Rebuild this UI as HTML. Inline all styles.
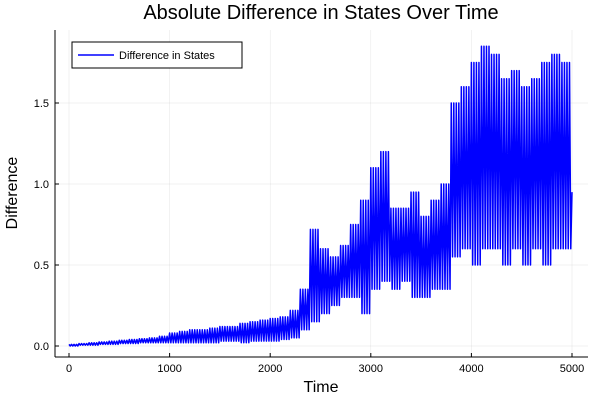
<!DOCTYPE html>
<html><head><meta charset="utf-8"><style>
html,body{margin:0;padding:0;background:#fff;}
svg{display:block;font-family:"Liberation Sans",sans-serif;}
</style></head><body>
<svg id="chart" width="600" height="400" viewBox="0 0 600 400"></svg>
<script>
const times=[0,100,200,300,400,500,600,700,800,900,1000,1100,1200,1300,1400,1500,1600,1700,1800,1900,2000,2100,2200,2300,2400,2500,2600,2700,2800,2900,3000,3100,3200,3300,3400,3500,3600,3700,3800,3900,4000,4100,4200,4300,4400,4500,4600,4700,4800,4900];
const hiVals=[.01,.015,.02,.025,.03,.035,.04,.045,.05,.06,.08,.09,.1,.1,.11,.12,.12,.14,.15,.16,.17,.18,.22,.35,.72,.6,.55,.62,.75,.9,1.1,1.2,.85,.85,.95,.8,.9,1.0,1.5,1.6,1.75,1.85,1.8,1.65,1.7,1.6,1.65,1.75,1.8,1.75];
const loVals=[0,.005,.005,.01,.01,.015,.015,.02,.02,.02,.02,.02,.02,.02,.02,.03,.03,.02,.03,.03,.03,.04,.05,.1,.15,.2,.25,.3,.3,.2,.35,.4,.35,.4,.3,.3,.35,.35,.55,.6,.5,.6,.6,.5,.6,.5,.6,.5,.6,.6];
const xTicks=[0,1000,2000,3000,4000,5000];
const yTicks=[0,0.5,1.0,1.5];
const yTickLabels=["0.0","0.5","1.0","1.5"];

const svg=document.getElementById('chart');
const NS='http://www.w3.org/2000/svg';
const L=55,R=588,T=30,B=357;
const xs=t=>69+(t/5000)*(572-69);
const ys=v=>346-v*162;
function mk(tag,attrs,parent){const e=document.createElementNS(NS,tag);for(const k in attrs)e.setAttribute(k,attrs[k]);(parent||svg).appendChild(e);return e;}

xTicks.forEach(t=>{const g=mk('line',{x1:xs(t),x2:xs(t),y1:T,y2:B,stroke:'#000','stroke-opacity':0.1,'stroke-width':0.5});

});
yTicks.forEach(v=>{const g=mk('line',{x1:L,x2:R,y1:ys(v),y2:ys(v),stroke:'#000','stroke-opacity':0.1,'stroke-width':0.5});

});

const ax=mk('line',{x1:L,x2:R,y1:B,y2:B,stroke:'#000','stroke-width':1});


const ay=mk('line',{x1:L,x2:L,y1:T,y2:B,stroke:'#000','stroke-width':1});



xTicks.forEach(t=>{
 const tk=mk('line',{x1:xs(t),x2:xs(t),y1:B,y2:B-4,stroke:'#000'});
 
 
 const tx=mk('text',{x:xs(t),y:B+15,'text-anchor':'middle','font-size':11,fill:'#000'});tx.textContent=t;
 
 
});
yTicks.forEach((v,i)=>{
 const tk=mk('line',{x1:L,x2:L+4,y1:ys(v),y2:ys(v),stroke:'#000'});
 
 
 const tx=mk('text',{x:L-6,y:ys(v)+4,'text-anchor':'end','font-size':11,fill:'#000'});tx.textContent=yTickLabels[i];
 
 
});

let pts=[];
times.forEach((t,i)=>{
 for(let k=0;k<8;k++){const tt=t+k*12.5;pts.push(xs(tt)+','+ys(k%2?loVals[i]:hiVals[i]));}
});
pts.push(xs(5000)+','+ys(0.95));
const line=mk('polyline',{points:pts.join(' '),fill:'none',stroke:'#0000ff','stroke-width':1.5,'stroke-linejoin':'round'});



const ti=mk('text',{x:321,y:19,'text-anchor':'middle','font-size':20,fill:'#000'});ti.textContent='Absolute Difference in States Over Time';


const xt=mk('text',{x:321,y:392,'text-anchor':'middle','font-size':16,fill:'#000'});xt.textContent='Time';


const yt=mk('text',{x:17,y:193,'text-anchor':'middle','font-size':16,fill:'#000',transform:'rotate(-90 17 193)'});yt.textContent='Difference';



const lg=mk('g',{});


mk('rect',{x:72,y:42,width:170,height:26,fill:'#fff',stroke:'#000','stroke-width':1},lg);
const ll=mk('line',{x1:78,x2:114,y1:55,y2:55,stroke:'#0000ff','stroke-width':1.5},lg);


const lt=mk('text',{x:119,y:59,'font-size':11,fill:'#000'},lg);lt.textContent='Difference in States';


</script>
</body></html>
